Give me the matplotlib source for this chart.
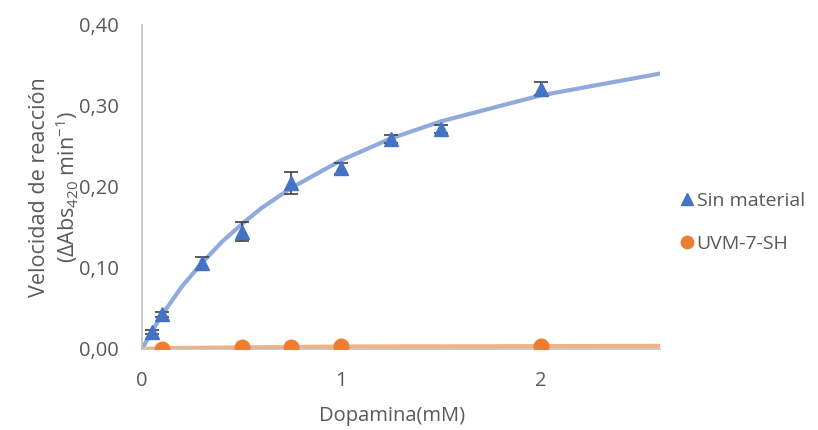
import matplotlib
matplotlib.use("Agg")
import matplotlib.pyplot as plt
from matplotlib.ticker import FixedLocator, FixedFormatter

plt.rcParams['font.family'] = ['Open Sans', 'DejaVu Sans']
plt.rcParams['mathtext.default'] = 'regular'

# Measured reaction rates
dopamine_free = [0.05, 0.1, 0.3, 0.5, 0.75, 1.0, 1.25, 1.5, 2.0]
rate_free = [0.021, 0.043, 0.106, 0.145, 0.205, 0.223, 0.259, 0.271, 0.321]
err_free = [0.003, 0.003, 0.008, 0.012, 0.014, 0.007, 0.005, 0.005, 0.008]

dopamine_uvm = [0.1, 0.5, 0.75, 1.0, 2.0]
rate_uvm = [0.000, 0.002, 0.003, 0.004, 0.004]

# Michaelis-Menten fit curves (sampled)
fit_x_free = [0, 0.05, 0.1, 0.2, 0.3, 0.4, 0.5, 0.6, 0.75, 1.0, 1.25, 1.5, 2.0, 2.6]
fit_y_free = [0, 0.022, 0.042, 0.077, 0.106, 0.132, 0.154, 0.174, 0.199, 0.233, 0.260, 0.281, 0.313, 0.340]
fit_x_uvm = [0, 0.1, 0.5, 0.75, 1.0, 2.0, 2.6]
fit_y_uvm = [0.000, 0.001, 0.002, 0.0025, 0.003, 0.0035, 0.0038]

x_ticks = [0, 1, 2]
x_tick_labels = ['0', '1', '2']
y_ticks = [0.0, 0.1, 0.2, 0.3, 0.4]
y_tick_labels = ['0,00', '0,10', '0,20', '0,30', '0,40']

fig = plt.figure(figsize=(8.18, 4.30), dpi=100)
ax = fig.add_axes([0.1736, 0.1884, 0.807 - 0.1736, 0.942 - 0.1884])

blue_line = '#8FAADC'
blue_mark = '#4472C4'
orange_line = '#F4B183'
orange_mark = '#ED7D31'

ax.plot(fit_x_free, fit_y_free, color=blue_line, lw=3, zorder=2, solid_capstyle='butt')
ax.plot(fit_x_uvm, fit_y_uvm, color=orange_line, lw=3, zorder=2, solid_capstyle='butt')

ax.errorbar(dopamine_free, rate_free, yerr=err_free, fmt='none', ecolor='#404040',
            elinewidth=1.2, capsize=5, capthick=1.2, zorder=3)
ax.plot(dopamine_free, rate_free, linestyle='none', marker='^', markersize=10.5,
        color=blue_mark, zorder=4, label='Sin material')
ax.plot(dopamine_uvm, rate_uvm, linestyle='none', marker='o', markersize=10.5,
        color=orange_mark, zorder=4, label='UVM-7-SH')

ax.set_xlim(0, 2.6)
ax.set_ylim(0, 0.40)
ax.xaxis.set_major_locator(FixedLocator(x_ticks))
ax.xaxis.set_major_formatter(FixedFormatter(x_tick_labels))
ax.yaxis.set_major_locator(FixedLocator(y_ticks))
ax.yaxis.set_major_formatter(FixedFormatter(y_tick_labels))

for s in ['top', 'right']:
    ax.spines[s].set_visible(False)
for s in ['left', 'bottom']:
    ax.spines[s].set_color('#BFBFBF')
    ax.spines[s].set_linewidth(1.2)

ax.tick_params(axis='both', length=0, labelsize=14.5, labelcolor='#595959')
ax.tick_params(axis='x', pad=16)
ax.tick_params(axis='y', pad=17)

ax.set_xlabel('Dopamina(mM)', fontsize=14.5, color='#595959')
ax.xaxis.set_label_coords(0.483, -0.176, transform=ax.transAxes)
ax.set_ylabel('Velocidad de reacción\n(ΔAbs$_{420}$ min$^{-1}$)', fontsize=15.5,
              color='#595959', linespacing=1.15)
ax.yaxis.set_label_coords(-0.118, 0.5, transform=ax.transAxes)

leg = fig.legend(loc='center left', bbox_to_anchor=(0.81, 0.483), frameon=False,
                 fontsize=14, labelcolor='#595959', handlelength=0.7,
                 handletextpad=0.15, labelspacing=1.3, markerscale=0.85)

fig.savefig('out.png', dpi=100)
